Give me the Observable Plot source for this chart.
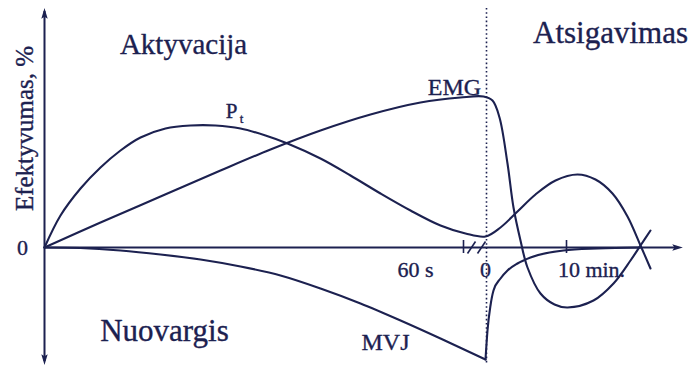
<!DOCTYPE html>
<html>
<head>
<meta charset="utf-8">
<script src="https://cdn.jsdelivr.net/npm/d3@7"></script>
<script src="https://cdn.jsdelivr.net/npm/@observablehq/plot@0.6"></script>
<style>
  html, body { margin: 0; padding: 0; background: #fff; }
  #chart svg { display: block; font-family: 'Liberation Serif', serif; }
  #chart svg text { font-family: 'Liberation Serif', serif !important; }
</style>
</head>
<body>
<div id="chart"></div>
<script>
// ---- data (x: time units, y: efficiency %) ----
const ptX  = [0, 16, 36, 56, 76, 96, 121, 146, 171, 196, 221, 243, 276, 306, 336, 366, 396, 421, 441, 456, 473, 491, 511, 533, 551, 568, 583, 596, 606];
const ptY  = [0, 32, 59, 80, 97, 110, 119, 122, 122, 119, 112, 104, 89, 72, 54, 37, 22, 14, 11, 20, 36, 53, 67, 73, 68, 54, 31, 2, -21];

const emgX = [0, 56, 116, 176, 226, 276, 326, 376, 416, 439, 448, 455, 463, 469, 476, 483, 496, 510, 523, 549, 569, 586, 596, 606];
const emgY = [0, 25, 51, 77, 98, 117, 133, 145, 150, 151, 147, 130, 84, 40, 7, -20, -46, -57, -60, -53, -36, -13, 2, 17];

const mvjActX = [0, 36, 76, 116, 156, 196, 236, 276, 316, 356, 396, 441];
const mvjActY = [0, -0.5, -3, -7, -12, -19, -28, -41, -56, -73, -91, -112];
const mvjRecX = [441, 443, 446, 449, 456, 463, 473, 486, 519, 553, 596];
const mvjRecY = [-112, -83, -58, -43, -31, -23, -16, -10, -3, -1, 0];

const breakX = 442;                       // end of activation / start of recovery
const tickX = [419, 522];                 // axis tick marks
const slashX = [427, 437];                // axis break marks
const tickLabels = ["60 s", "0", "10 min."];
const tickLabelX = [371, 441, 547];

const xDomain = [0, 640];
const yDomain = [-117, 239];

// ---- build tables ----
const toRows = (xs, ys, s) => xs.map((x, i) => ({x, y: ys[i], s}));
const smooth = [
  ...toRows(ptX, ptY, "Pt"),
  ...toRows(emgX, emgY, "EMG"),
  ...toRows(mvjActX, mvjActY, "MVJa")
];
const steep = toRows(mvjRecX, mvjRecY, "MVJr");

const ink = "#1c2150";
const serif = "Liberation Serif";

// narrow arrow-head symbol pointing up
const dart = {
  draw(ctx, size) {
    const l = Math.sqrt(size);
    ctx.moveTo(0, -l * 0.6);
    ctx.lineTo(l * 0.3, l * 0.4);
    ctx.lineTo(0, l * 0.2);
    ctx.lineTo(-l * 0.3, l * 0.4);
    ctx.closePath();
  }
};

const xEnd = xDomain[1] - 2;
const heads = [
  {x: xEnd - 6, y: 0, r: 90},
  {x: 0, y: yDomain[1] - 6, r: 0},
  {x: 0, y: yDomain[0] + 6, r: 180}
];

const T = (txt, opts) => Plot.text([txt], {text: d => d, fill: ink, stroke: ink, strokeWidth: 0.35, fontFamily: serif, ...opts});

const chart = Plot.plot({
  width: 692,
  height: 366,
  marginLeft: 44,
  marginRight: 8,
  marginTop: 8,
  marginBottom: 2,
  x: {domain: xDomain, axis: null},
  y: {domain: yDomain, axis: null},
  style: {background: "#fff", color: ink, fontFamily: serif},
  marks: [
    // dotted separator
    Plot.ruleX([breakX], {stroke: ink, strokeWidth: 1.6, strokeDasharray: "1.6,2.6"}),
    // axes
    Plot.ruleY([0], {x1: 0, x2: xEnd - 4, stroke: ink, strokeWidth: 2}),
    Plot.ruleX([0], {y1: yDomain[0] + 3, y2: yDomain[1] - 3, stroke: ink, strokeWidth: 2}),
    Plot.dot(heads, {x: "x", y: "y", rotate: "r", symbol: dart, r: 6, fill: ink, stroke: null}),
    // ticks and break marks
    Plot.ruleX(tickX, {y1: -6, y2: 7, stroke: ink, strokeWidth: 1.6}),
    Plot.link(slashX, {x1: d => d - 4, x2: d => d + 4, y1: -6, y2: 6, stroke: ink, strokeWidth: 1.6}),
    // curves
    Plot.line(smooth, {x: "x", y: "y", z: "s", curve: "catmull-rom", stroke: ink, strokeWidth: 2.1}),
    Plot.line(steep, {x: "x", y: "y", z: "s", curve: "monotone-x", stroke: ink, strokeWidth: 2.1}),
    // tick labels
    Plot.text(tickLabels, {x: (d, i) => tickLabelX[i], y: -22, text: d => d, fontSize: 22, fill: ink, stroke: ink, strokeWidth: 0.35, fontFamily: serif}),
    T("0", {x: -22, y: 0, fontSize: 22}),
    // y label
    T("Efektyvumas, %", {x: -20, y: 119, rotate: -90, fontSize: 25}),
    // region labels
    T("Aktyvacija", {x: 139, y: 203, fontSize: 29}),
    T("Atsigavimas", {x: 566, y: 214, fontSize: 31}),
    T("Nuovargis", {x: 120, y: -84, fontSize: 31}),
    // curve labels
    T("EMG", {x: 410, y: 160, fontSize: 24}),
    T("MVJ", {x: 341, y: -95, fontSize: 24}),
    T("P", {x: 187, y: 136, fontSize: 21}),
    T("t", {x: 197, y: 129, fontSize: 13})
  ]
});

// make sure every label uses the serif face
d3.select(chart).selectAll("g[aria-label=text], text")
  .attr("font-family", serif)
  .style("font-family", "'Liberation Serif', serif");

document.getElementById("chart").appendChild(chart);
</script>
</body>
</html>
